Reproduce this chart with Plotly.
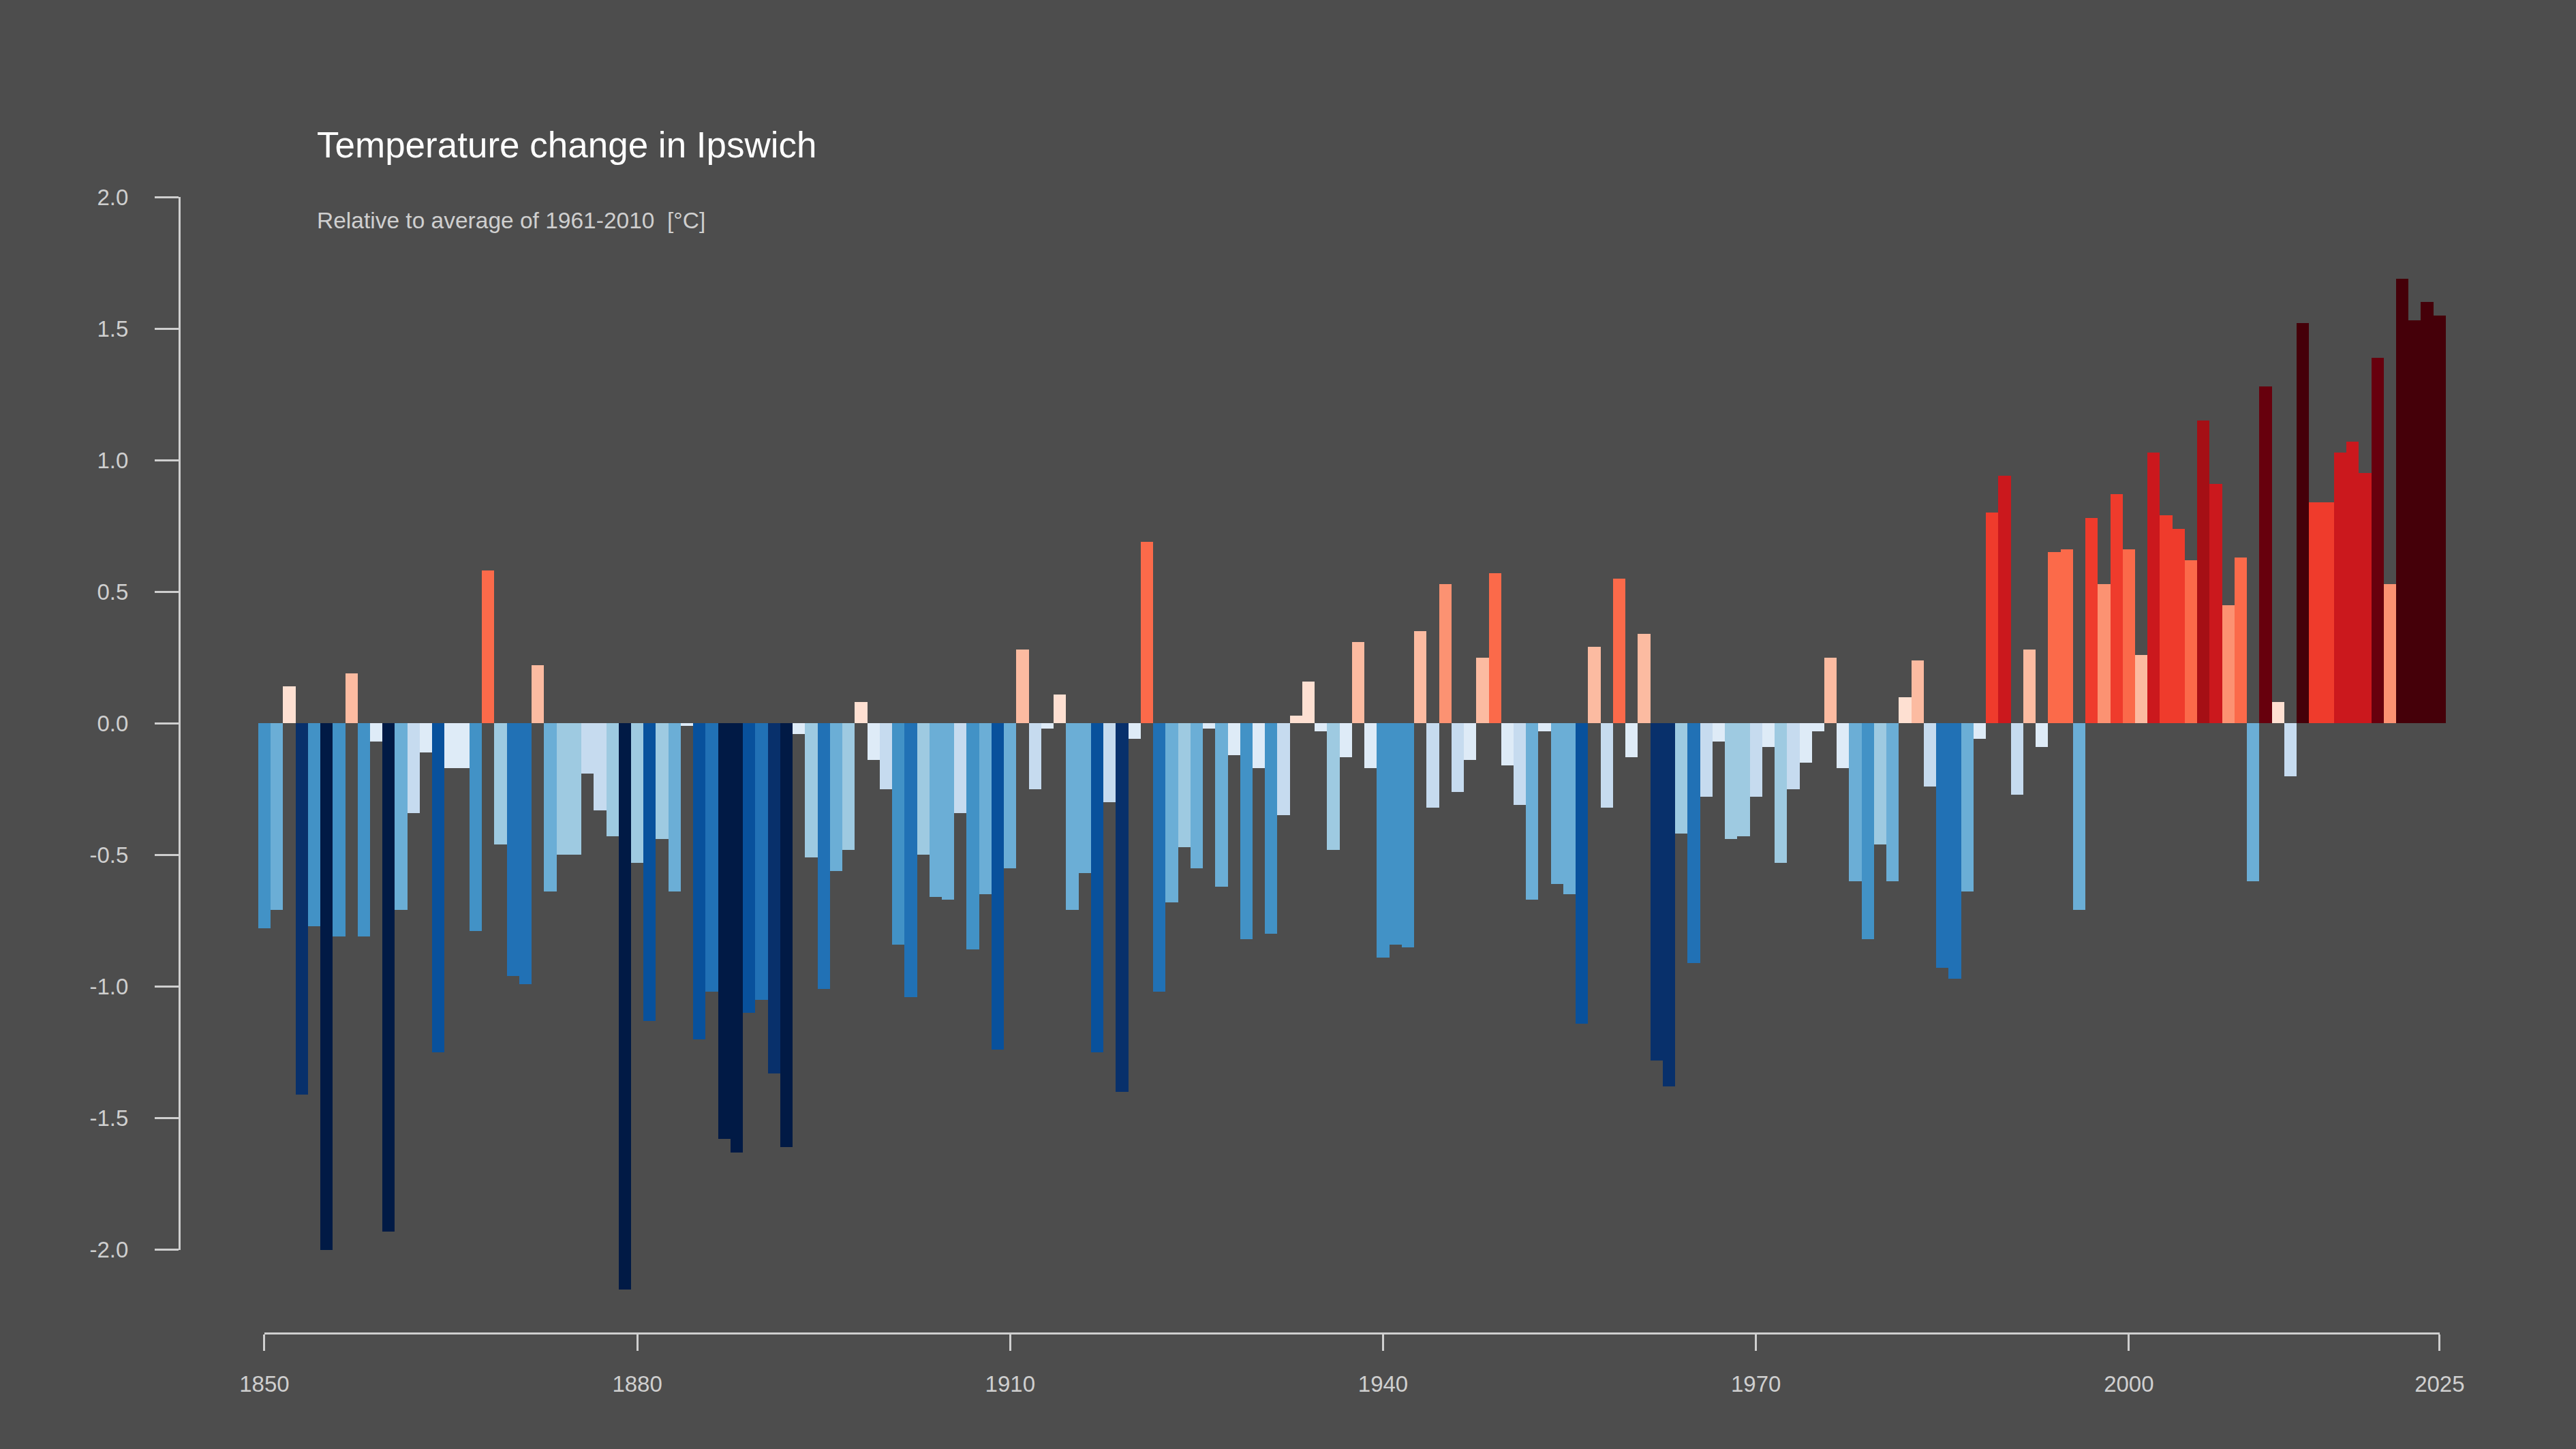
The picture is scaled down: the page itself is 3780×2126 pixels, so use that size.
import plotly.graph_objects as go

# anomaly per year relative to 1961-2010 mean
YEARS = list(range(1850, 2026))
ANOMALY = [
    -0.78, -0.71, 0.14, -1.41, -0.77, -2.00, -0.81, 0.19, -0.81, -0.07,   # 1850s
    -1.93, -0.71, -0.34, -0.11, -1.25, -0.17, -0.17, -0.79, 0.58, -0.46,  # 1860s
    -0.96, -0.99, 0.22, -0.64, -0.50, -0.50, -0.19, -0.33, -0.43, -2.15,  # 1870s
    -0.53, -1.13, -0.44, -0.64, -0.01, -1.20, -1.02, -1.58, -1.63, -1.10,  # 1880s
    -1.05, -1.33, -1.61, -0.04, -0.51, -1.01, -0.56, -0.48, 0.08, -0.14,  # 1890s
    -0.25, -0.84, -1.04, -0.50, -0.66, -0.67, -0.34, -0.86, -0.65, -1.24,  # 1900s
    -0.55, 0.28, -0.25, -0.02, 0.11, -0.71, -0.57, -1.25, -0.30, -1.40,   # 1910s
    -0.06, 0.69, -1.02, -0.68, -0.47, -0.55, -0.02, -0.62, -0.12, -0.82,  # 1920s
    -0.17, -0.80, -0.35, 0.03, 0.16, -0.03, -0.48, -0.13, 0.31, -0.17,    # 1930s
    -0.89, -0.84, -0.85, 0.35, -0.32, 0.53, -0.26, -0.14, 0.25, 0.57,     # 1940s
    -0.16, -0.31, -0.67, -0.03, -0.61, -0.65, -1.14, 0.29, -0.32, 0.55,   # 1950s
    -0.13, 0.34, -1.28, -1.38, -0.42, -0.91, -0.28, -0.07, -0.44, -0.43,  # 1960s
    -0.28, -0.09, -0.53, -0.25, -0.15, -0.03, 0.25, -0.17, -0.60, -0.82,  # 1970s
    -0.46, -0.60, 0.10, 0.24, -0.24, -0.93, -0.97, -0.64, -0.06, 0.80,    # 1980s
    0.94, -0.27, 0.28, -0.09, 0.65, 0.66, -0.71, 0.78, 0.53, 0.87,        # 1990s
    0.66, 0.26, 1.03, 0.79, 0.74, 0.62, 1.15, 0.91, 0.45, 0.63,           # 2000s
    -0.60, 1.28, 0.08, -0.20, 1.52, 0.84, 0.84, 1.03, 1.07, 0.95,         # 2010s
    1.39, 0.53, 1.69, 1.53, 1.60, 1.55,                                   # 2020s
]

X_TICKS = [1850, 1880, 1910, 1940, 1970, 2000, 2025]
Y_TICKS = [-2.0, -1.5, -1.0, -0.5, 0.0, 0.5, 1.0, 1.5, 2.0]

# stripes palette, one colour per 0.18 degC step
PALETTE = ["#011a45", "#08306b", "#08519c", "#2171b5", "#4292c6", "#6baed6",
           "#9ecae1", "#c6dbef", "#deebf7", "#fee0d2", "#fcbba1", "#fc9272",
           "#fb6a4a", "#ef3b2c", "#cb181d", "#a50f15", "#67000d", "#450009"]
STEP = 0.18
n = len(PALETTE)
colorscale = []
for i, c in enumerate(PALETTE):
    colorscale.append([i / n, c])
    colorscale.append([(i + 1) / n, c])

BG = "#4d4d4d"
GREY = "#cfcfcf"
FONT = "Liberation Sans, Arial, Helvetica, sans-serif"

# data ranges of the (hidden) main axes
XMIN, XMAX = 1843.15, 2027.75
YMIN, YMAX = -2.317, 2.0

fig = go.Figure()
fig.add_trace(go.Bar(
    x=YEARS, y=ANOMALY, width=1,
    marker=dict(color=ANOMALY, colorscale=colorscale,
                cmin=-STEP * n / 2, cmax=STEP * n / 2, line_width=0),
    hoverinfo="x+y", showlegend=False))

# empty trace carrying the R-style detached axes
fig.add_trace(go.Scatter(x=[], y=[], xaxis="x2", yaxis="y2",
                         showlegend=False, hoverinfo="skip"))

axis_style = dict(showgrid=False, zeroline=False, showline=True,
                  linecolor=GREY, linewidth=3, ticks="outside",
                  tickcolor=GREY, tickwidth=3, fixedrange=True,
                  tickfont=dict(family=FONT, size=33, color=GREY))

fig.update_layout(
    width=3780, height=2126,
    paper_bgcolor=BG, plot_bgcolor="rgba(0,0,0,0)",
    margin=dict(l=263, r=150, t=289, b=170, pad=0),
    bargap=0,
    xaxis=dict(range=[XMIN, XMAX], visible=False, fixedrange=True),
    yaxis=dict(range=[YMIN, YMAX], visible=False, fixedrange=True),
    xaxis2=dict(axis_style,
                domain=[(1850 - XMIN) / (XMAX - XMIN), (2025 - XMIN) / (XMAX - XMIN)],
                range=[1850, 2025], anchor="free", position=0,
                tickvals=X_TICKS, ticktext=[str(t) for t in X_TICKS],
                ticklen=24, ticklabelstandoff=20),
    yaxis2=dict(axis_style,
                domain=[(-2.0 - YMIN) / (YMAX - YMIN), 1],
                range=[-2.0, 2.0], anchor="free", position=0,
                tickvals=Y_TICKS, ticktext=["%.1f" % t for t in Y_TICKS],
                ticklen=35, ticklabelstandoff=32),
    title=dict(text="Temperature change in Ipswich",
               font=dict(family=FONT, size=53, color="white"),
               xref="container", yref="container",
               x=465 / 3780, xanchor="left", y=1 - 212 / 2126, yanchor="middle"),
    annotations=[dict(text="Relative to average of 1961-2010 &nbsp;[°C]",
                      xref="paper", yref="paper", x=(463 - 263) / 3367, y=0.9796,
                      xanchor="left", yanchor="middle", showarrow=False,
                      font=dict(family=FONT, size=33.5, color=GREY))],
    hovermode="closest",
)

fig.write_html("out.html", config={"displayModeBar": False},
               post_script="document.body.style.margin='0';"
                           "document.body.style.background='%s';" % BG)
